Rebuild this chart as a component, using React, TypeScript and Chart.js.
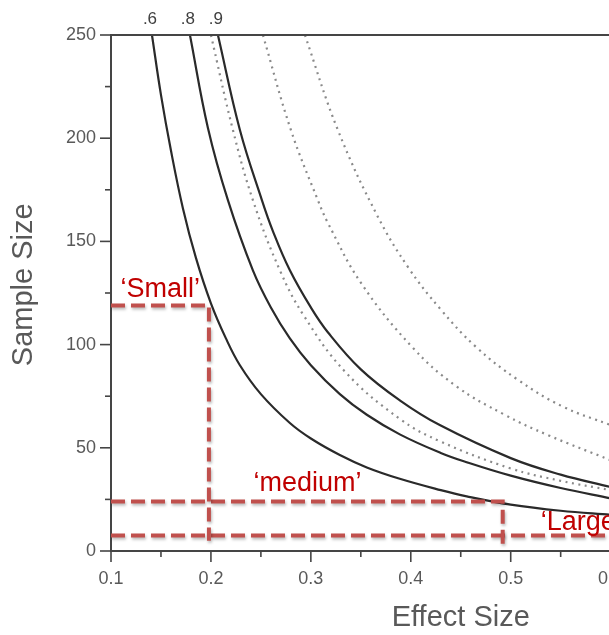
import React, { useEffect, useRef } from 'react';
import { Chart, registerables } from 'chart.js';

Chart.register(...registerables);

// ---- Data ----
// Solid curves (power .6, .8, .9)
const effectSize60 = [0.141, 0.15, 0.16, 0.172, 0.185, 0.2, 0.215, 0.229, 0.25, 0.279, 0.3, 0.329, 0.356, 0.389, 0.43, 0.456, 0.5, 0.55, 0.6];
const sample60 = [250, 221, 194, 166, 142, 120, 103, 90, 76, 62, 54.5, 46.5, 40.5, 35, 29.5, 26.5, 22.5, 19.5, 17.5];

const effectSize80 = [0.179, 0.197, 0.217, 0.242, 0.26, 0.279, 0.3, 0.329, 0.356, 0.389, 0.43, 0.456, 0.5, 0.55, 0.6];
const sample80 = [250, 205, 170, 136, 118, 103, 90, 76, 66, 56.5, 47.5, 43, 36.5, 30.5, 25.5];

const effectSize90 = [0.207, 0.229, 0.251, 0.262, 0.279, 0.3, 0.317, 0.35, 0.389, 0.429, 0.5, 0.55, 0.6];
const sample90 = [250, 204, 170, 155, 136, 118, 106, 88, 73, 61, 45, 37, 31];

// Dotted curves
const effectSizeDotA = [0.2, 0.222, 0.242, 0.269, 0.293, 0.334, 0.389, 0.43, 0.5, 0.55, 0.6];
const sampleDotA = [250, 204, 170, 136, 114, 87, 64, 53, 40, 34, 29.5];

const effectSizeDotB = [0.252, 0.28, 0.307, 0.317, 0.35, 0.401, 0.445, 0.494, 0.538, 0.6];
const sampleDotB = [250, 204, 170, 159, 130, 99, 80, 66, 56, 44];

const effectSizeDotC = [0.294, 0.327, 0.367, 0.398, 0.43, 0.465, 0.507, 0.552, 0.6];
const sampleDotC = [250, 204, 162, 137, 117, 99, 83, 70, 61];

// Guide boxes ('Small', 'medium', 'Large')
const smallGuideX = [0.1, 0.198, 0.198];
const smallGuideY = [119, 119, 5];
const mediumGuideX = [0.1, 0.492, 0.492];
const mediumGuideY = [24, 24, 2];
const largeGuideX = [0.1, 0.8];
const largeGuideY = [7.5, 7.5];

const curveLabels = ['.6', '.8', '.9'];
const guideLabels = ['\u2018Small\u2019', '\u2018medium\u2019', '\u2018Large\u2019'];
const xTitle = 'Effect Size';
const yTitle = 'Sample Size';

// Axis ticks
const xMin = 0.1;
const xMax = 0.8;
const xStep = 0.1;
const yMin = 0;
const yMax = 250;
const yStep = 50;

const AXIS = '#454545';
const TEXT = '#595959';
const GUIDE = 'rgb(192,80,77)';
const RED_TEXT = '#C00000';
const FONT = "'Liberation Sans', Arial, sans-serif";

const pts = (xs: number[], ys: number[]) => xs.map((x, i) => ({ x, y: ys[i] }));

const decorPlugin = {
  id: 'decor',
  beforeDatasetDraw(chart: any, args: any) {
    const ds = chart.data.datasets[args.index];
    if (ds.isGuide) {
      const ctx = chart.ctx;
      ctx.save();
      ctx.shadowColor = 'rgba(0,0,0,0.28)';
      ctx.shadowBlur = 3;
      ctx.shadowOffsetX = 1;
      ctx.shadowOffsetY = 2;
    }
  },
  afterDatasetDraw(chart: any, args: any) {
    const ds = chart.data.datasets[args.index];
    if (ds.isGuide) chart.ctx.restore();
  },
  afterDraw(chart: any) {
    const { ctx, chartArea, scales } = chart;
    const x = scales.x;
    const y = scales.y;
    ctx.save();
    // top frame line
    ctx.strokeStyle = AXIS;
    ctx.lineWidth = 2;
    ctx.beginPath();
    ctx.moveTo(chartArea.left - 1, chartArea.top);
    ctx.lineTo(chartArea.right, chartArea.top);
    ctx.stroke();

    // tick marks (major + minor)
    ctx.lineWidth = 1.6;
    for (let i = 0; i <= (yMax - yMin) / 25; i++) {
      const v = yMin + i * 25;
      const py = y.getPixelForValue(v);
      const len = i % 2 === 0 ? 11 : 6;
      ctx.beginPath();
      ctx.moveTo(chartArea.left, py);
      ctx.lineTo(chartArea.left - len, py);
      ctx.stroke();
    }
    for (let i = 0; i <= Math.round((xMax - xMin) / 0.05); i++) {
      const v = xMin + i * 0.05;
      const px = x.getPixelForValue(v);
      const len = i % 2 === 0 ? 11 : 6;
      ctx.beginPath();
      ctx.moveTo(px, chartArea.bottom);
      ctx.lineTo(px, chartArea.bottom + len);
      ctx.stroke();
    }

    // y axis title
    ctx.save();
    ctx.fillStyle = TEXT;
    ctx.font = `29px ${FONT}`;
    ctx.textAlign = 'center';
    ctx.textBaseline = 'middle';
    ctx.translate(24, y.getPixelForValue(129));
    ctx.rotate(-Math.PI / 2);
    ctx.fillText(yTitle, 0, 0);
    ctx.restore();

    // curve labels above the frame
    ctx.fillStyle = '#404040';
    ctx.font = `17px ${FONT}`;
    ctx.textAlign = 'center';
    ctx.textBaseline = 'middle';
    const starts = [effectSize60[0], effectSize80[0], effectSize90[0]];
    curveLabels.forEach((t, i) => {
      ctx.fillText(t, x.getPixelForValue(starts[i]) - 2, chartArea.top - 16);
    });

    // guide labels
    ctx.fillStyle = RED_TEXT;
    ctx.font = `27px ${FONT}`;
    ctx.textAlign = 'left';
    ctx.textBaseline = 'middle';
    const guidePos = [
      [0.1095, 126.5],
      [0.2425, 32.5],
      [0.53, 14],
    ];
    guideLabels.forEach((t, i) => {
      ctx.fillText(t, x.getPixelForValue(guidePos[i][0]), y.getPixelForValue(guidePos[i][1]));
    });
    ctx.restore();
  },
};

export default function App() {
  const ref = useRef<HTMLCanvasElement | null>(null);

  useEffect(() => {
    if (!ref.current) return;
    const solid = (data: any) => ({
      data,
      borderColor: '#2a2a2a',
      borderWidth: 2.2,
      pointRadius: 0,
      tension: 0.4,
      fill: false,
    });
    const dotted = (data: any) => ({
      data,
      borderColor: '#8a8a8a',
      borderWidth: 2.2,
      borderDash: [2, 4.5],
      pointRadius: 0,
      tension: 0.4,
      fill: false,
    });
    const guide = (data: any) => ({
      data,
      isGuide: true,
      borderColor: GUIDE,
      borderWidth: 4,
      borderDash: [14, 6],
      pointRadius: 0,
      tension: 0,
      fill: false,
    });

    const chart = new Chart(ref.current, {
      type: 'line',
      data: {
        datasets: [
          guide(pts(smallGuideX, smallGuideY)),
          guide(pts(mediumGuideX, mediumGuideY)),
          guide(pts(largeGuideX, largeGuideY)),
          solid(pts(effectSize60, sample60)),
          solid(pts(effectSize80, sample80)),
          solid(pts(effectSize90, sample90)),
          dotted(pts(effectSizeDotA, sampleDotA)),
          dotted(pts(effectSizeDotB, sampleDotB)),
          dotted(pts(effectSizeDotC, sampleDotC)),
        ] as any,
      },
      options: {
        responsive: false,
        animation: false,
        layout: { padding: { top: 35, right: 23, left: 0, bottom: 0 } },
        plugins: { legend: { display: false }, tooltip: { enabled: false } },
        scales: {
          x: {
            type: 'linear',
            min: xMin,
            max: xMax,
            grid: { display: true, drawOnChartArea: false, drawTicks: false },
            border: { display: true, color: AXIS, width: 2 },
            ticks: {
              stepSize: xStep,
              padding: 17,
              color: TEXT,
              font: { family: FONT, size: 18 },
              maxRotation: 0,
              autoSkip: false,
              callback: (v: any) => Number(v).toFixed(1),
            },
            title: {
              display: true,
              text: xTitle,
              color: TEXT,
              font: { family: FONT, size: 29, lineHeight: 1.2 },
              padding: { top: 0, bottom: 0 },
            },
            afterFit: (s: any) => {
              s.height = 84;
            },
          },
          y: {
            type: 'linear',
            min: yMin,
            max: yMax,
            grid: { display: true, drawOnChartArea: false, drawTicks: false },
            border: { display: true, color: AXIS, width: 2 },
            ticks: {
              stepSize: yStep,
              padding: 15,
              color: TEXT,
              font: { family: FONT, size: 18 },
            },
            title: { display: false },
            afterFit: (s: any) => {
              s.width = 111;
            },
          },
        },
      } as any,
      plugins: [decorPlugin],
    });
    return () => chart.destroy();
  }, []);

  return (
    <div
      style={{
        position: 'fixed',
        left: 0,
        top: 0,
        width: 609,
        height: 635,
        overflow: 'hidden',
        background: '#fff',
      }}
    >
      <canvas ref={ref} width={840} height={635} style={{ display: 'block' }} />
    </div>
  );
}
